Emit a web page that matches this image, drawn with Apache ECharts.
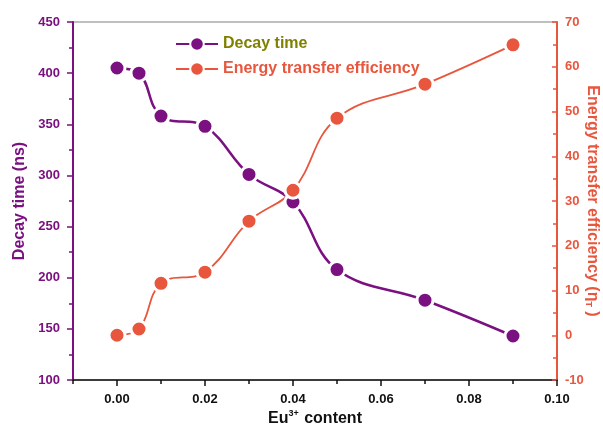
<!DOCTYPE html>
<html><head><meta charset="utf-8">
<script src="https://cdn.jsdelivr.net/npm/echarts@6/dist/echarts.min.js"></script>
<style>html,body{margin:0;padding:0;background:#fff}#c{width:603px;height:427px}</style>
</head><body><div id="c"></div>
<script>
const content = [0, 0.005, 0.01, 0.02, 0.03, 0.04, 0.05, 0.07, 0.09];
const decayTime = [405, 400, 358, 348, 301, 274, 208, 178, 143];
const transferEff = [0, 1.4, 11.6, 14.1, 25.5, 32.4, 48.5, 56.1, 64.9];
const xMajorTicks = [0, 0.02, 0.04, 0.06, 0.08, 0.10];
const xMinorTicks = [-0.01, 0.01, 0.03, 0.05, 0.07, 0.09];

const PURPLE = '#7B1080', ORANGE = '#E8563E', OLIVE = '#7F8000';
const FONT = 'Liberation Sans';
const chart = echarts.init(document.getElementById('c'));
const pair = (xs, ys) => xs.map((x, i) => [x, ys[i]]);

chart.setOption({
  animation: false,
  textStyle: {fontFamily: FONT},
  grid: {left: 73, right: 46, top: 22, bottom: 47, outerBoundsMode: 'none', containLabel: false,
         show: true, borderColor: '#808080', borderWidth: 1.2, backgroundColor: 'transparent'},
  legend: {
    orient: 'vertical', left: 170, top: 31, itemWidth: 42, itemHeight: 17, itemGap: 9,
    textStyle: {fontFamily: FONT, fontWeight: 'bold', fontSize: 16},
    data: [
      {name: 'Decay time', textStyle: {color: OLIVE}},
      {name: 'Energy transfer efficiency', textStyle: {color: ORANGE}}
    ]
  },
  xAxis: [{
    type: 'value', min: -0.01, max: 0.10, position: 'bottom',
    splitLine: {show: false},
    axisLine: {show: true, onZero: false, lineStyle: {color: '#111', width: 1.5}},
    axisTick: {show: true, customValues: xMajorTicks, length: 6, lineStyle: {color: '#111', width: 1.5}},
    axisLabel: {customValues: xMajorTicks, formatter: v => v.toFixed(2), color: '#111', fontWeight: 'bold', fontSize: 13, margin: 13, fontFamily: FONT},
    name: '{b|Eu}{sup|3+}{b| content}', nameLocation: 'middle', nameGap: 29, nameMoveOverlap: false,
    nameTextStyle: {rich: {
      b: {fontFamily: FONT, fontWeight: 'bold', fontSize: 16, color: '#111'},
      sup: {fontFamily: FONT, fontWeight: 'bold', fontSize: 9, color: '#111', padding: [0, 1, 10, 0]}
    }}
  }, {
    type: 'value', min: -0.01, max: 0.10, position: 'bottom',
    splitLine: {show: false},
    axisLine: {show: false, onZero: false},
    axisTick: {show: true, customValues: xMinorTicks, length: 4, lineStyle: {color: '#111', width: 1.5}},
    axisLabel: {show: false}
  }],
  yAxis: [{
    type: 'value', min: 100, max: 450, interval: 50, position: 'left',
    splitLine: {show: false},
    axisLine: {show: true, onZero: false, lineStyle: {color: PURPLE, width: 2}},
    axisTick: {show: true, length: 6, lineStyle: {color: PURPLE, width: 1.5}},
    minorTick: {show: true, splitNumber: 2, length: 4, lineStyle: {color: PURPLE, width: 1.5}},
    axisLabel: {color: PURPLE, fontWeight: 'bold', fontSize: 13, margin: 13, fontFamily: FONT},
    name: 'Decay time (ns)', nameLocation: 'middle', nameGap: 45, nameMoveOverlap: false,
    nameTextStyle: {color: PURPLE, fontWeight: 'bold', fontSize: 16, fontFamily: FONT}
  }, {
    type: 'value', min: -10, max: 70, interval: 10, position: 'right',
    splitLine: {show: false},
    axisLine: {show: true, onZero: false, lineStyle: {color: ORANGE, width: 2}},
    axisTick: {show: true, inside: true, length: 5, lineStyle: {color: ORANGE, width: 1.5}},
    minorTick: {show: true, splitNumber: 2, length: 4, lineStyle: {color: ORANGE, width: 1.5}},
    axisLabel: {color: ORANGE, fontWeight: 'bold', fontSize: 13, margin: 8, fontFamily: FONT},
    name: '{b|Energy transfer efficiency (η}{sub|T}{b| )}', nameLocation: 'middle', nameGap: 27, nameRotate: -90, nameMoveOverlap: false,
    nameTextStyle: {rich: {
      b: {fontFamily: FONT, fontWeight: 'bold', fontSize: 16, color: ORANGE},
      sub: {fontFamily: FONT, fontWeight: 'bold', fontSize: 9, color: ORANGE, padding: [8, 0, 0, 0]}
    }}
  }],
  series: [{
    name: 'Decay time', type: 'line', xAxisIndex: 0, yAxisIndex: 0,
    data: pair(content, decayTime), smooth: 0.4,
    symbol: 'circle', symbolSize: 16,
    lineStyle: {color: PURPLE, width: 2.5},
    itemStyle: {color: PURPLE, borderColor: '#fff', borderWidth: 3}
  }, {
    name: 'Energy transfer efficiency', type: 'line', xAxisIndex: 0, yAxisIndex: 1,
    data: pair(content, transferEff), smooth: 0.4,
    symbol: 'circle', symbolSize: 16,
    lineStyle: {color: ORANGE, width: 1.8},
    itemStyle: {color: ORANGE, borderColor: '#fff', borderWidth: 3}
  }]
});
</script></body></html>
